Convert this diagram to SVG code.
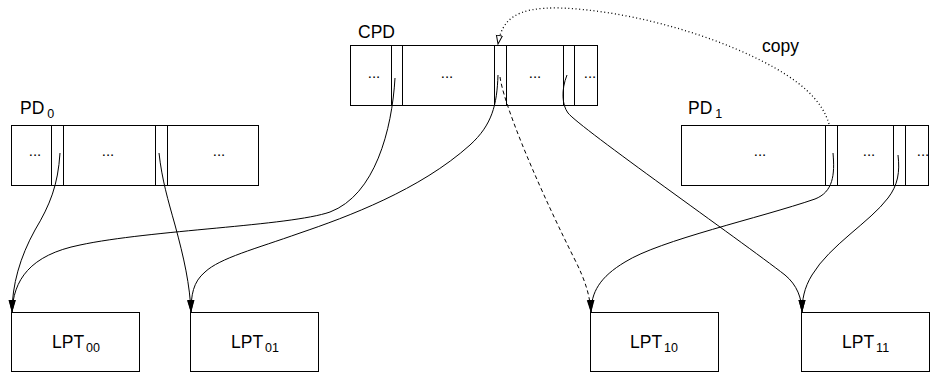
<svg xmlns="http://www.w3.org/2000/svg" width="935" height="381" viewBox="0 0 935 381">
<style>
  .box { fill: #fff; stroke: #000; stroke-width: 1; }
  .sep { stroke: #000; stroke-width: 1; }
  .lbl { font-family: "Liberation Sans", Arial, sans-serif; font-size: 17.5px; fill: #000; }
  .sub { font-size: 12.5px; }
  .dots { font-family: "Liberation Sans", Arial, sans-serif; font-size: 15px; fill: #000; text-anchor: middle; }
  .conn { fill: none; stroke: #000; stroke-width: 1; }
  .dash { stroke-dasharray: 4 3; }
  .dot { stroke-width: 1.3; stroke-dasharray: 1 2.6; }
</style>
<defs>
  <marker id="arr" markerUnits="userSpaceOnUse" markerWidth="14" markerHeight="8" refX="13" refY="3.5" orient="auto">
    <path d="M0,0 L13,3.5 L0,7 Z" fill="#000" stroke="none"/>
  </marker>
  <marker id="open" markerUnits="userSpaceOnUse" markerWidth="11" markerHeight="9" refX="9" refY="3.5" orient="auto">
    <path d="M0.5,0.5 L9,3.5 L0.5,6.5 Z" fill="#fff" stroke="#000" stroke-width="1" stroke-dasharray="none"/>
  </marker>
</defs>

<g id="CPD">
  <text class="lbl" x="358" y="37.5">CPD</text>
  <rect class="box" x="350.5" y="45.5" width="247" height="60"/>
  <line class="sep" x1="391.5" y1="45.5" x2="391.5" y2="105.5"/>
  <line class="sep" x1="402.5" y1="45.5" x2="402.5" y2="105.5"/>
  <line class="sep" x1="494.5" y1="45.5" x2="494.5" y2="105.5"/>
  <line class="sep" x1="506.5" y1="45.5" x2="506.5" y2="105.5"/>
  <line class="sep" x1="563.5" y1="45.5" x2="563.5" y2="105.5"/>
  <line class="sep" x1="574.5" y1="45.5" x2="574.5" y2="105.5"/>
  <text class="dots" x="374" y="78">...</text>
  <text class="dots" x="447" y="78">...</text>
  <text class="dots" x="535" y="78">...</text>
  <text class="dots" x="590" y="78">...</text>
</g>

<g id="PD0">
  <text class="lbl" x="20" y="114">PD<tspan class="sub" dx="3" dy="4">0</tspan></text>
  <rect class="box" x="11.5" y="125.5" width="247" height="60"/>
  <line class="sep" x1="51.5" y1="125.5" x2="51.5" y2="185.5"/>
  <line class="sep" x1="63.5" y1="125.5" x2="63.5" y2="185.5"/>
  <line class="sep" x1="155.5" y1="125.5" x2="155.5" y2="185.5"/>
  <line class="sep" x1="167.5" y1="125.5" x2="167.5" y2="185.5"/>
  <text class="dots" x="35" y="156">...</text>
  <text class="dots" x="108" y="156">...</text>
  <text class="dots" x="219" y="156">...</text>
</g>

<g id="PD1">
  <text class="lbl" x="688" y="114">PD<tspan class="sub" dx="3" dy="4">1</tspan></text>
  <rect class="box" x="681.5" y="125.5" width="247" height="60"/>
  <line class="sep" x1="825.5" y1="125.5" x2="825.5" y2="185.5"/>
  <line class="sep" x1="837.5" y1="125.5" x2="837.5" y2="185.5"/>
  <line class="sep" x1="893.5" y1="125.5" x2="893.5" y2="185.5"/>
  <line class="sep" x1="905.5" y1="125.5" x2="905.5" y2="185.5"/>
  <text class="dots" x="760" y="156">...</text>
  <text class="dots" x="869" y="156">...</text>
  <text class="dots" x="923" y="156">...</text>
</g>

<g id="LPT00">
  <rect class="box" x="11.5" y="312.5" width="128" height="59"/>
  <text class="lbl" x="52" y="348">LPT<tspan class="sub" dx="2" dy="4">00</tspan></text>
</g>
<g id="LPT01">
  <rect class="box" x="190.5" y="312.5" width="128" height="59"/>
  <text class="lbl" x="231" y="348">LPT<tspan class="sub" dx="2" dy="4">01</tspan></text>
</g>
<g id="LPT10">
  <rect class="box" x="590.5" y="312.5" width="128" height="59"/>
  <text class="lbl" x="630" y="348">LPT<tspan class="sub" dx="2" dy="4">10</tspan></text>
</g>
<g id="LPT11">
  <rect class="box" x="801.5" y="312.5" width="128" height="59"/>
  <text class="lbl" x="842" y="348">LPT<tspan class="sub" dx="2" dy="4">11</tspan></text>
</g>

<g id="connectors">
  <path class="conn" marker-end="url(#arr)" d="M60,153 C58,185 50,205 35,230 C20,257 12,285 12,313"/>
  <path class="conn" marker-end="url(#arr)" d="M159,153 C162,180 168,200 175,225 C184,258 190,285 191,313"/>
  <path class="conn" marker-end="url(#arr)" d="M395,78 C392,130 375,195 330,212 C290,226 150,230 80,245 C30,255 13,280 12,313"/>
  <path class="conn" marker-end="url(#arr)" d="M498,75 C497,105 492,125 470,145 C420,190 347,217 300,233 C255,249 220,258 205,272 C193,282 191,295 191,313"/>
  <path class="conn dash" marker-end="url(#arr)" d="M500,77 C503,100 530,170 575,260 C585,280 590,295 591,313"/>
  <path class="conn" marker-end="url(#arr)" d="M567,75 C561,90 562,105 568,113 C580,128 740,240 785,275 C797,285 802,298 802,313"/>
  <path class="conn" marker-end="url(#arr)" d="M833,153 C835,175 833,192 815,199 C760,218 660,240 625,262 C600,277 591,292 591,313"/>
  <path class="conn" marker-end="url(#arr)" d="M898,155 C900,172 898,185 888,198 C870,222 830,245 812,275 C804,288 802,300 802,313"/>
  <path class="conn dot" marker-end="url(#open)" d="M829,124 C822,100 800,80 760,60 C700,30 620,10 560,8 C515,7 502,20 498,44"/>
  <text class="lbl" x="762" y="52">copy</text>
</g>
</svg>
